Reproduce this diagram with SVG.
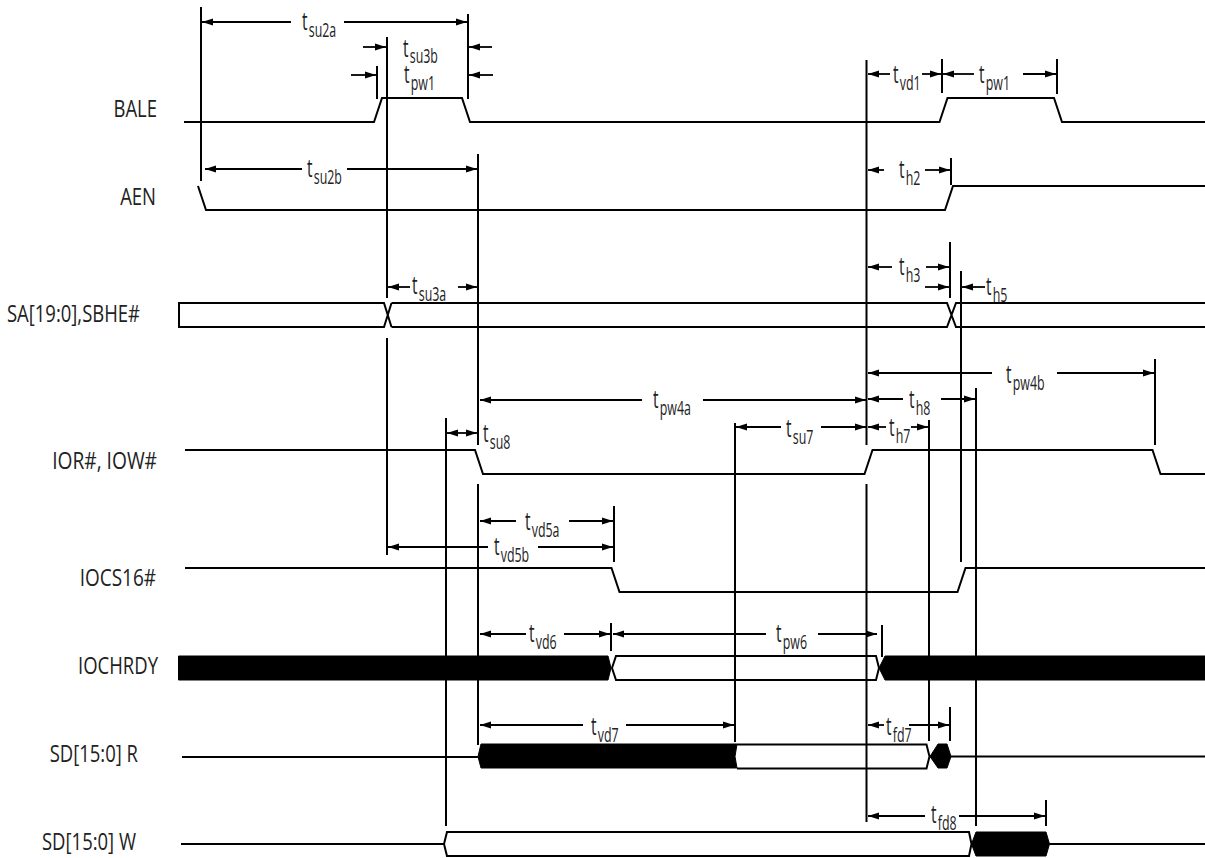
<svg xmlns="http://www.w3.org/2000/svg" width="1205" height="858" viewBox="0 0 1205 858">
<style>
text{font-family:"Open Sans","Liberation Sans",sans-serif;fill:#222}
.n{font-size:24px;text-anchor:end}
.t{font-size:25px}
.t tspan{font-size:20px}
.w{fill:none;stroke:#000;stroke-width:2}
.b{fill:#000;stroke:#000;stroke-width:1}
.v{fill:none;stroke:#000;stroke-width:2}
.a{fill:none;stroke:#000;stroke-width:1.800;marker-end:url(#h)}
</style>
<defs>
<marker id="h" markerUnits="userSpaceOnUse" markerWidth="12" markerHeight="8" refX="11" refY="4" orient="auto-start-reverse"><path d="M0,.5 L11,4 L0,7.5 Z" fill="#000"/></marker>
</defs>
<rect width="1205" height="858" fill="#fff"/>
<g id="signal-bale"><text class="n" transform="translate(157,117) scale(.77,1)">BALE</text><path class="w" d="M184,122H374L382,98H462L470,122H939.500L947.500,98H1054L1062,122H1205"/></g>
<g id="signal-aen"><text class="n" transform="translate(156,205) scale(.77,1)">AEN</text><path class="w" d="M198,186L206,210H945L953,186H1205"/></g>
<g id="signal-sa"><text class="n" transform="translate(140,322) scale(.77,1)">SA[19:0],SBHE#</text><path class="w" d="M391.500,303H947L956,327H1205M391.500,327H947L956,303H1205M391.500,303L384,327H179V303H384L391.500,327"/></g>
<g id="signal-ior"><text class="n" transform="translate(157,469) scale(.8,1)">IOR#, IOW#</text><path class="w" d="M185,450H475L483,474H864.500L872.500,450H1152.500L1160.500,474H1205"/></g>
<g id="signal-iocs"><text class="n" transform="translate(156,586) scale(.79,1)">IOCS16#</text><path class="w" d="M185,568H611.500L619.500,592H957.500L965.500,568H1205"/></g>
<g id="signal-iochrdy"><text class="n" transform="translate(158,674) scale(.77,1)">IOCHRDY</text><path class="b" d="M178.500,656H608L611,668L608,680H178.500Z"/><path class="w" d="M612,668L616,656H876L879,668L876,680H616Z"/><path class="b" d="M879,668L885,656H1205V680H885Z"/></g>
<g id="signal-sdr"><text class="n" transform="translate(138,762) scale(.77,1)">SD[15:0] R</text><path class="w" d="M182,757H478"/><path class="b" d="M478,756.500L481,744H737L735,756.500L737,768H481Z"/><path class="w" d="M737,744.500H926.500L929.500,756.500L926.500,768.500H737"/><path class="b" d="M930,756.500L938,744H947L951,756.500L947,768H938Z"/><path class="w" d="M951,756.500H1205"/></g>
<g id="signal-sdw"><text class="n" transform="translate(136,850) scale(.77,1)">SD[15:0] W</text><path class="w" d="M181,844H444L447,832H969L971.500,844L969,856H447L444,844"/><path class="b" d="M971.500,844L976,832H1046L1049.500,844L1046,856H976Z"/><path class="w" d="M1049.500,844H1205"/></g>
<g id="connectors">
<path class="v" d="M201,7V181M468,14V99M387,37V298M387,338V555M377,66V99M478,154V445M478,484V745M446,418V826M866.500,60V445M866.500,484V822M942,59V93M1057,59V94M951,158V185M950,242V298M961,271V562M1155,359V445M976,388V826M929,420V741M614,506V562M611,623V651M735,423V742M882,625V657M950,707V741M1046,800V826"/>
<path class="a" d="M291,22H202"/><path class="a" d="M344,22H467"/>
<path class="a" d="M363,47H386"/><path class="a" d="M351,75H376"/>
<path class="a" d="M492,47H469"/><path class="a" d="M493,75H469"/>
<path class="a" d="M302,169H205"/><path class="a" d="M347,169H477"/>
<path class="a" d="M410,287H388"/><path class="a" d="M458,287H477"/>
<path class="a" d="M890,74H868"/><path class="a" d="M922,74H941"/>
<path class="a" d="M974,74H943"/><path class="a" d="M1023,74H1056"/>
<path class="a" d="M884,170H868"/><path class="a" d="M925,170H950"/>
<path class="a" d="M892,267H868"/><path class="a" d="M926,267H949"/>
<path class="a" d="M925,287H949"/><path class="a" d="M985,287H962"/>
<path class="a" d="M992,373H868"/><path class="a" d="M1057,373H1154"/>
<path class="a" d="M903,399H868"/><path class="a" d="M941,399H975"/>
<path class="a" d="M886,427H868"/><path class="a" d="M911,427H928"/>
<path class="a" d="M642,400H480"/><path class="a" d="M703,400H866"/>
<path class="a" d="M781,427H736"/><path class="a" d="M821,427H866"/>
<path class="a" style="marker-start:url(#h)" d="M447,433H477"/>
<path class="a" d="M516,521H480"/><path class="a" d="M569,521H613"/>
<path class="a" d="M488,547H388"/><path class="a" d="M538,547H613"/>
<path class="a" d="M526,634H480"/><path class="a" d="M564,634H610"/>
<path class="a" d="M766,634H613"/><path class="a" d="M818,634H877"/>
<path class="a" d="M583,725H480"/><path class="a" d="M626,725H734"/>
<path class="a" d="M884,725H868"/><path class="a" d="M909,725H949"/>
<path class="a" d="M925,816H868"/><path class="a" d="M959,816H1045"/>
</g>
<g id="timing-labels">
<text class="t" transform="translate(302,30) scale(.62,1)">t<tspan dx="2" dy="6.500">su2a</tspan></text>
<text class="t" transform="translate(403,56.500) scale(.62,1)">t<tspan dx="2" dy="6.500">su3b</tspan></text>
<text class="t" transform="translate(404,83) scale(.62,1)">t<tspan dx="2" dy="6.500">pw1</tspan></text>
<text class="t" transform="translate(307,177) scale(.62,1)">t<tspan dx="2" dy="6.500">su2b</tspan></text>
<text class="t" transform="translate(412,294) scale(.62,1)">t<tspan dx="2" dy="6.500">su3a</tspan></text>
<text class="t" transform="translate(893,83) scale(.62,1)">t<tspan dx="2" dy="6.500">vd1</tspan></text>
<text class="t" transform="translate(979,83) scale(.62,1)">t<tspan dx="2" dy="6.500">pw1</tspan></text>
<text class="t" transform="translate(899,178) scale(.62,1)">t<tspan dx="2" dy="6.500">h2</tspan></text>
<text class="t" transform="translate(899,275) scale(.62,1)">t<tspan dx="2" dy="6.500">h3</tspan></text>
<text class="t" transform="translate(986,295) scale(.62,1)">t<tspan dx="2" dy="6.500">h5</tspan></text>
<text class="t" transform="translate(1006,383) scale(.62,1)">t<tspan dx="2" dy="6.500">pw4b</tspan></text>
<text class="t" transform="translate(909,408) scale(.62,1)">t<tspan dx="2" dy="6.500">h8</tspan></text>
<text class="t" transform="translate(889,436) scale(.62,1)">t<tspan dx="2" dy="6.500">h7</tspan></text>
<text class="t" transform="translate(653,408) scale(.62,1)">t<tspan dx="2" dy="6.500">pw4a</tspan></text>
<text class="t" transform="translate(786,437) scale(.62,1)">t<tspan dx="2" dy="6.500">su7</tspan></text>
<text class="t" transform="translate(483,442) scale(.62,1)">t<tspan dx="2" dy="6.500">su8</tspan></text>
<text class="t" transform="translate(525,530) scale(.62,1)">t<tspan dx="2" dy="6.500">vd5a</tspan></text>
<text class="t" transform="translate(494,555) scale(.62,1)">t<tspan dx="2" dy="6.500">vd5b</tspan></text>
<text class="t" transform="translate(529,642) scale(.62,1)">t<tspan dx="2" dy="6.500">vd6</tspan></text>
<text class="t" transform="translate(776,642) scale(.62,1)">t<tspan dx="2" dy="6.500">pw6</tspan></text>
<text class="t" transform="translate(591,735) scale(.62,1)">t<tspan dx="2" dy="6.500">vd7</tspan></text>
<text class="t" transform="translate(886,735) scale(.62,1)">t<tspan dx="2" dy="6.500">fd7</tspan></text>
<text class="t" transform="translate(931,823) scale(.62,1)">t<tspan dx="2" dy="6.500">fd8</tspan></text>
</g>
</svg>
